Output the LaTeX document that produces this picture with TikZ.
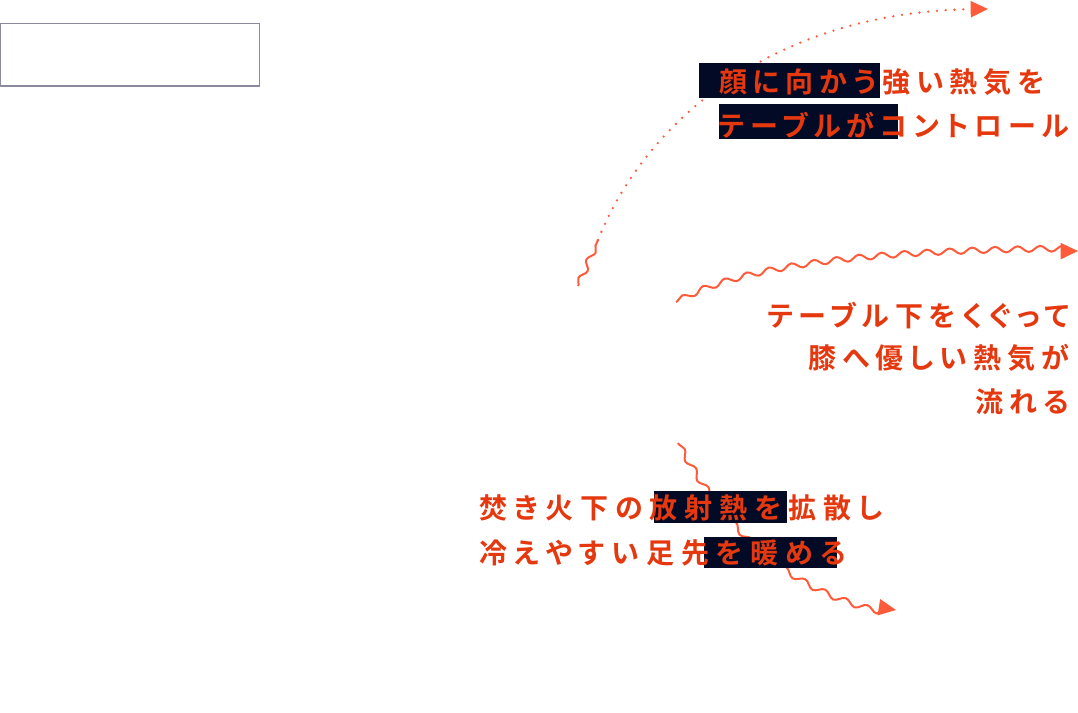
\documentclass[tikz,border=0pt]{standalone}
\usepackage{fontspec}
\newfontfamily\jp[LetterSpace=21,RawFeature=+palt,BoldFont={Noto Sans CJK JP Bold}]{Noto Sans CJK JP}
\newfontfamily\jpw[LetterSpace=25,RawFeature=+palt,BoldFont={Noto Sans CJK JP Bold}]{Noto Sans CJK JP}
\usetikzlibrary{decorations.pathmorphing,arrows.meta}
\definecolor{txtred}{HTML}{E6380F}
\definecolor{arrred}{HTML}{FF5A3A}
\definecolor{navy}{HTML}{020A26}
\definecolor{boxgray}{HTML}{8A8A9C}
\tikzset{
  lbl/.style={inner sep=0pt, outer sep=0pt, text=txtred, font=\jp\bfseries\fontsize{21pt}{25pt}\selectfont},
  lblw/.style={lbl, font=\jpw\bfseries\fontsize{21pt}{25pt}\selectfont},
  hl/.style={fill=navy},
  wave/.style={draw=arrred, line width=1.5pt, line join=round, decorate,
    decoration={snake, amplitude=2.2pt, segment length=17pt, pre length=1pt, post length=2pt}},
  headtip/.style={-{Triangle[length=13pt,width=12pt]}},
  dotline/.style={draw=arrred, line width=1.9pt, line cap=round, dash pattern=on 0pt off 6.6pt}
}
\begin{document}
\begin{tikzpicture}[x=0.75pt,y=-0.75pt]
\useasboundingbox (0,0) rectangle (1078,713);
% empty framed box
\draw[boxgray, line width=0.8pt] (0.5,23.5) rectangle (259.5,86);

% coordinates of arrows
\coordinate (a1s) at (578,286);
\coordinate (a1m) at (598,240);
\coordinate (a1e) at (988,9);
\coordinate (a2s) at (676,302);
\coordinate (a2e) at (1078,251);
\coordinate (a3s) at (678,443);
\coordinate (a3e) at (896,610);

% arrow 1: short wave then dotted arc
\draw[wave, decoration={segment length=15pt, amplitude=2.2pt}] (a1s) -- (a1m);
\draw[dotline, arrred, headtip] (a1m) .. controls (648,115) and (780,12) .. (a1e);

% arrow 2
\draw[wave, headtip] (a2s) .. controls (750,262) and (900,252) .. (a2e);

% arrow 3
\draw[wave, headtip] (a3s) .. controls (710,500) and (770,590) .. (a3e);

% highlights
\fill[hl] (699,63) rectangle (880,98);
\fill[hl] (719,104) rectangle (898,139);
\fill[hl] (654,491) rectangle (787,523);
\fill[hl] (704,537) rectangle (837,568);

% text 1
\node[lbl, anchor=west] (t1a) at (719,82) {顔に向かう強い熱気を};
\node[lbl, anchor=west] (t1b) at (719,125) {テーブルがコントロール};

% text 2
\node[lbl, anchor=east] (t2a) at (1069,316) {テーブル下をくぐって};
\node[lbl, anchor=east] (t2b) at (1069,358) {膝へ優しい熱気が};
\node[lbl, anchor=east] (t2c) at (1069,402) {流れる};

% text 3
\node[lblw, anchor=west] (t3a) at (479,508) {焚き火下の放射熱を拡散し};
\node[lblw, anchor=west] (t3b) at (479,553) {冷えやすい足先を暖める};
\end{tikzpicture}
\end{document}
